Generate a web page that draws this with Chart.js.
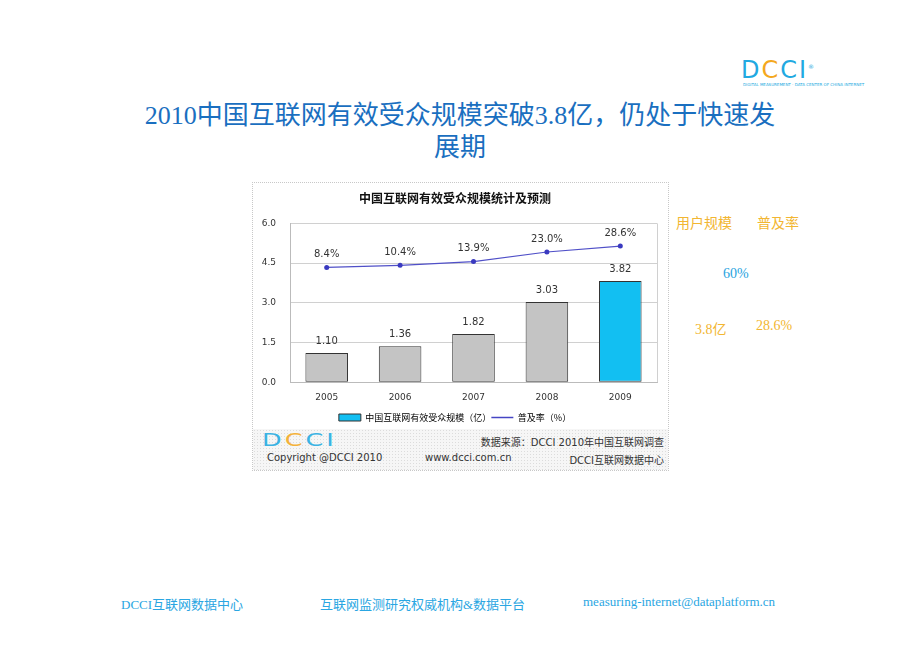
<!DOCTYPE html>
<html>
<head>
<meta charset="utf-8">
<script src="https://cdn.jsdelivr.net/npm/chart.js@4/dist/chart.umd.min.js"></script>
<style>
  body{margin:0;width:920px;height:651px;background:#fff;position:relative;overflow:hidden;font-family:"Liberation Serif","Noto Sans CJK SC",serif;}
  .abs{position:absolute;white-space:nowrap;}
  #title{left:0;width:920px;top:100px;text-align:center;color:#1a6fc0;font-size:26px;line-height:32px;}
  #box{left:252px;top:182px;width:415px;height:287px;border:1px dotted #c8c8c8;background:#fff;}
  #wrap{position:absolute;left:0;top:0;width:415px;height:251px;}
  #strip{position:absolute;left:0;top:246px;width:415px;height:41px;background:#f6f6f6;
    background-image:radial-gradient(#dcdcdc 0.6px,transparent 0.8px);background-size:3px 3px;
    font-family:"DejaVu Sans","Noto Sans CJK SC",sans-serif;font-size:10px;color:#333;}
  .side{font-size:14px;color:#f2b632;}
  .foot{top:594px;font-size:13px;color:#2aa6e2;}
</style>
</head>
<body>
<div id="title" class="abs">2010中国互联网有效受众规模突破3.8亿，仍处于快速发<br>展期</div>

<div class="abs" style="left:741px;top:56px;font-family:'DejaVu Sans',sans-serif;font-size:24px;letter-spacing:2px;color:#21a9e1;">D<span style="color:#f4a81d">C</span>CI<sup style="font-size:6px;">®</sup></div>
<div class="abs" style="left:743px;top:82px;font-family:'DejaVu Sans',sans-serif;font-size:4px;color:#21a9e1;">DIGITAL MEASUREMENT · DATA CENTER OF CHINA INTERNET</div>

<div id="box" class="abs">
  <div id="wrap"><canvas id="c"></canvas></div>
  <div id="strip">
    <div class="abs" style="left:9px;top:1px;font-size:17px;letter-spacing:2px;color:#3bb3e3;transform:scaleX(1.5);transform-origin:left;">D<span style="color:#f4b23a">C</span>CI</div>
    <div class="abs" style="right:4px;top:5px;">数据来源：DCCI 2010年中国互联网调查</div>
    <div class="abs" style="left:14px;top:23px;">Copyright @DCCI 2010</div>
    <div class="abs" style="left:172px;top:23px;">www.dcci.com.cn</div>
    <div class="abs" style="right:4px;top:23px;">DCCI互联网数据中心</div>
  </div>
</div>

<div class="abs side" style="left:676px;top:212px;">用户规模</div>
<div class="abs side" style="left:757px;top:212px;">普及率</div>
<div class="abs side" style="left:723px;top:266px;color:#27a3e0;">60%</div>
<div class="abs side" style="left:695px;top:318px;">3.8亿</div>
<div class="abs side" style="left:756px;top:318px;">28.6%</div>

<div class="abs foot" style="left:121px;">DCCI互联网数据中心</div>
<div class="abs foot" style="left:320px;">互联网监测研究权威机构&amp;数据平台</div>
<div class="abs foot" style="left:583px;">measuring-internet@dataplatform.cn</div>

<script>
const years = ['2005','2006','2007','2008','2009'];
const users = [1.10, 1.36, 1.82, 3.03, 3.82];      // 亿
const rate = [8.4, 10.4, 13.9, 23.0, 28.6];        // %
const yTicks = [0, 1.5, 3.0, 4.5, 6.0];
const barColors = ['#c4c4c4','#c4c4c4','#c4c4c4','#c4c4c4','#12bff2'];

// dataset 0 = 普及率 line, dataset 1 = bars
const valueLabels = {
  id:'valueLabels',
  afterDatasetsDraw(chart){
    const ctx = chart.ctx;
    ctx.save();
    ctx.font = '10px "DejaVu Sans", sans-serif';
    ctx.fillStyle = '#333';
    ctx.textAlign = 'center';
    ctx.textBaseline = 'bottom';
    chart.getDatasetMeta(1).data.forEach((b,i)=>{
      ctx.fillText(users[i].toFixed(2), b.x, b.y - 7);
    });
    chart.getDatasetMeta(0).data.forEach((p,i)=>{
      ctx.fillText(rate[i].toFixed(1)+'%', p.x, p.y - 8);
    });
    ctx.restore();
  }
};

new Chart(document.getElementById('c'), {
  data:{
    labels: years,
    datasets:[
      { type:'line', label:'普及率（%）', data: rate, yAxisID:'y1', borderColor:'#5050c8', backgroundColor:'#3a3ac0',
        borderWidth:1.2, pointRadius:2.5, pointBackgroundColor:'#3a3ac0', pointBorderWidth:0, tension:0, order:0 },
      { type:'bar', label:'中国互联网有效受众规模（亿）', data: users, yAxisID:'y', backgroundColor: barColors,
        borderColor:'#333', borderWidth:1, borderSkipped:false, barPercentage:0.58, categoryPercentage:1, order:1 }
    ]
  },
  options:{
    responsive:true, maintainAspectRatio:false, animation:false,
    layout:{ padding:{ left:0, right:11, top:0, bottom:2 } },
    plugins:{
      title:{ display:true, text:'中国互联网有效受众规模统计及预测', color:'#111',
        font:{ family:'"Noto Sans CJK SC", sans-serif', size:12, weight:'bold' }, padding:{ top:8, bottom:18 } },
      legend:{ position:'bottom',
        labels:{ color:'#555', font:{ family:'"Noto Sans CJK SC", sans-serif', size:9 }, usePointStyle:true, pointStyleWidth:22,
          boxHeight:7, padding:0,
          generateLabels(chart){
            return [
              { text:'中国互联网有效受众规模（亿）', fillStyle:'#12bff2', strokeStyle:'#333', lineWidth:1, pointStyle:'rect', datasetIndex:1 },
              { text:'普及率（%）', fillStyle:'#3a3ac0', strokeStyle:'#4545c4', lineWidth:1.5, pointStyle:'line', datasetIndex:0 }
            ];
          } } },
      tooltip:{ enabled:false }
    },
    scales:{
      x:{ grid:{ display:false, drawTicks:false }, border:{ color:'#bbb' },
        ticks:{ color:'#333', font:{ family:'"DejaVu Sans", sans-serif', size:9 }, padding:10 } },
      y:{ min:0, max:6, afterBuildTicks(ax){ ax.ticks = yTicks.map(v=>({value:v})); },
        afterFit(ax){ ax.width = 37; },
        grid:{ color:'#d0d0d0', drawTicks:false }, border:{ color:'#bbb' },
        ticks:{ color:'#333', padding:14, font:{ family:'"DejaVu Sans", sans-serif', size:9 }, callback:v=>v.toFixed(1) } },
      y1:{ display:false, min:-100, max:50 }
    }
  },
  plugins:[valueLabels, {
    id:'frame',
    afterDraw(chart){
      const {ctx, chartArea:a} = chart;
      ctx.save(); ctx.strokeStyle='#d0d0d0'; ctx.lineWidth=1;
      ctx.beginPath(); ctx.moveTo(a.right+0.5,a.top); ctx.lineTo(a.right+0.5,a.bottom); ctx.stroke();
      ctx.restore();
    }
  }]
});
</script>
</body>
</html>
